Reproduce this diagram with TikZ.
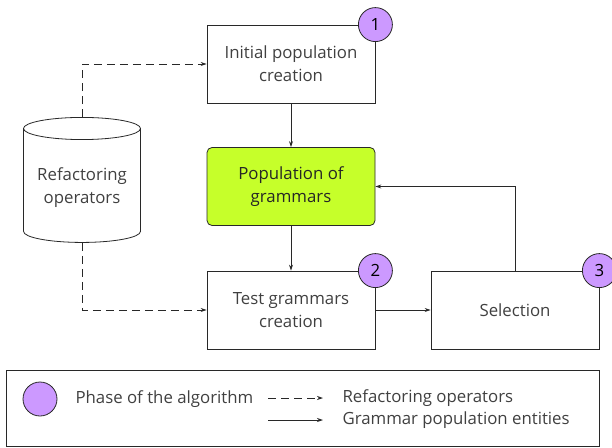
\documentclass[tikz,border=0pt]{standalone}
\usepackage{fontspec}
\setmainfont{Open Sans}
\usetikzlibrary{shapes.geometric,arrows.meta}

\definecolor{textgray}{RGB}{64,64,64}
\definecolor{linegray}{RGB}{40,40,40}
\definecolor{limefill}{RGB}{198,255,42}
\definecolor{phasefill}{RGB}{204,153,255}

\tikzset{
  stepbox/.style={draw=linegray, line width=0.8pt, minimum width=168pt, minimum height=78pt,
    align=center, text=textgray},
  phase/.style={circle, draw=linegray, line width=0.8pt, fill=phasefill, minimum size=34pt,
    inner sep=0pt, text=black},
  flow/.style={draw=linegray, line width=0.8pt, -{Stealth[length=6pt,width=4pt]}},
  opflow/.style={flow, dashed, dash pattern=on 8pt off 5pt},
}

\begin{document}
\begin{tikzpicture}[x=1pt, y=-1pt, every node/.style={font=\fontsize{16.8}{23}\selectfont}]
    \useasboundingbox (0,0) rectangle (612,447);

    % steps
    \node[stepbox] (init) at (291,64) {Initial population\\creation};
    \node[stepbox, fill=limefill, rounded corners=5pt, text=black!85] (pop) at (291,186.5) {Population of\\grammars};
    \node[stepbox] (test) at (291,310) {Test grammars\\creation};
    \node[stepbox] (sel) at (515,310) {Selection};

    % refactoring operators store
    \node[cylinder, shape border rotate=90, aspect=0.23, draw=linegray, line width=0.8pt,
      minimum width=117pt, minimum height=125pt, align=center, text=textgray] (refops) at (82,187.5)
      {Refactoring\\operators};

    % phases
    \node[phase] (p1) at (init.north east) {1};
    \node[phase] (p2) at (test.north east) {2};
    \node[phase] (p3) at (sel.north east) {3};

    % flows
    \draw[flow] (init) -- (pop);
    \draw[flow] (pop) -- (test);
    \draw[flow] (test) -- (sel);
    \draw[flow] (sel.north) |- (pop.east);
    \draw[opflow] (refops.north) |- (init.west);
    \draw[opflow] (refops.south) |- (test.west);

    % legend
    \node[draw=linegray, line width=0.8pt, minimum width=593pt, minimum height=76pt] (legend) at (302.5,408) {};
    \node[phase, minimum size=34pt] (lphase) at (40,399) {};
    \node[anchor=west, text=textgray] (lphasetext) at (72,399) {Phase of the algorithm};
    \coordinate (dashstart) at (268,398);
    \coordinate (dashend) at (323,398);
    \coordinate (solidstart) at (268,420);
    \coordinate (solidend) at (323,420);
    \draw[opflow] (dashstart) -- (dashend);
    \draw[flow] (solidstart) -- (solidend);
    \node[anchor=west, text=textgray] (ldash) at (339,398) {Refactoring operators};
    \node[anchor=west, text=textgray] (lsolid) at (339,420) {Grammar population entities};
\end{tikzpicture}
\end{document}
